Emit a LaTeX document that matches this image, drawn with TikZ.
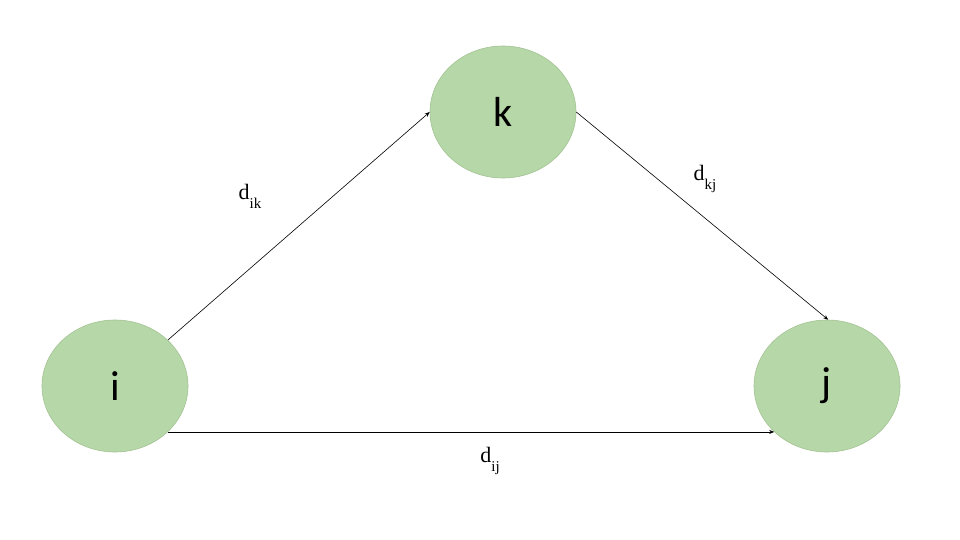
\documentclass[tikz,border=0pt]{standalone}
\usepackage{fontspec}
\setmainfont{Liberation Serif}
\newfontfamily\nodefont{Carlito}
\usetikzlibrary{shapes.geometric,arrows.meta}
\definecolor{nodefill}{HTML}{B6D7A8}
\definecolor{nodeline}{HTML}{A3C293}
\tikzset{
  vertex/.style={ellipse, draw=nodeline, line width=0.6pt, fill=nodefill, inner sep=0pt,
    minimum width=146pt, minimum height=132pt, font=\nodefont\fontsize{42}{42}\selectfont},
  edge/.style={draw=black, line width=0.6pt, -{Stealth[length=5pt,width=4pt]}},
  elabel/.style={font=\fontsize{22}{22}\selectfont, inner sep=0pt}
}
\newcommand{\dlab}[1]{d\raisebox{-9pt}{\fontsize{15}{15}\selectfont #1}}
\begin{document}
\begin{tikzpicture}[x=1pt,y=-1pt]
\useasboundingbox (0,0) rectangle (960,540);
\node[vertex] (i) at (115,386) {i};
\node[vertex] (k) at (503,112) {k};
\node[vertex] (j) at (827,386) {j};
\draw[edge] (i.41.5) -- (k.180);
\draw[edge] (k.0) -- (j.89);
\draw[edge] (i.-41.5) -- (j.221.5);
\node[elabel] (lik) at (250,196) {\dlab{ik}};
\node[elabel] (lkj) at (705,179) {\dlab{kj}};
\node[elabel] (lij) at (490,461) {\dlab{ij}};
\end{tikzpicture}
\end{document}
